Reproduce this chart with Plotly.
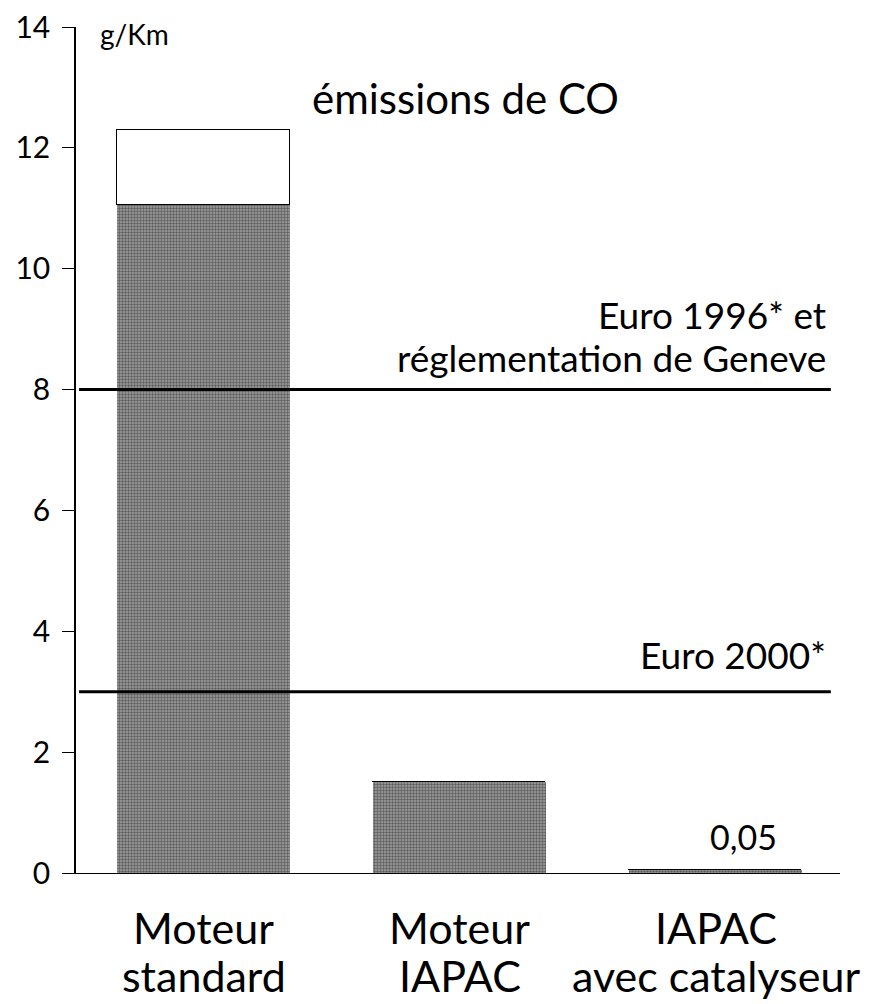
import plotly.graph_objects as go

categories_line1 = ["Moteur", "Moteur", "IAPAC"]
categories_line2 = ["standard", "IAPAC", "avec catalyseur"]
co_measured = [11.05, 1.5, 0.05]
co_extra = [1.25, 0, 0]
limit_values = [8, 3]
limit_labels = [["Euro 1996* et", "réglementation de Geneve"], ["Euro 2000*"]]
value_label = "0,05"
y_ticks = [0, 2, 4, 6, 8, 10, 12, 14]

FONT = "Lato"
x = [0, 1, 2]

fig = go.Figure()
fig.add_trace(go.Bar(
    x=x, y=co_measured, width=0.676,
    marker=dict(color="#8c8c8c", line=dict(width=0),
                pattern=dict(shape=".", fgcolor="#1a1a1a", bgcolor="#a0a0a0",
                             size=3, solidity=0.5)),
    showlegend=False, hoverinfo="skip"))
fig.add_trace(go.Bar(
    x=x, y=co_extra, width=0.676,
    marker=dict(color="white", line=dict(color="black", width=1.5)),
    showlegend=False, hoverinfo="skip"))

for v in limit_values:
    fig.add_shape(type="line", xref="paper", yref="y", x0=0.004, x1=0.988,
                  y0=v, y1=v, line=dict(color="black", width=3))

# limit labels, one annotation per line
shifts = [[75, 32], [37]]
for v, lines, sh in zip(limit_values, limit_labels, shifts):
    for txt, s in zip(lines, sh):
        fig.add_annotation(x=0.984, xref="paper", y=v, yref="y", text=txt,
                           showarrow=False, xanchor="right", yanchor="middle",
                           yshift=s, font=dict(family=FONT, size=37, color="black"))

fig.add_annotation(x=x[2], y=co_measured[2], text=value_label, showarrow=False,
                   yanchor="bottom", yshift=11, xshift=28,
                   font=dict(family=FONT, size=34, color="black"))
fig.add_annotation(x=0.51, xref="paper", y=12.83, yref="y", text="émissions de CO",
                   showarrow=False, yanchor="middle",
                   font=dict(family=FONT, size=42, color="black"))
fig.add_annotation(x=0.029, xref="paper", y=14, yref="y", text="g/Km",
                   showarrow=False, xanchor="left", yanchor="middle", yshift=-7,
                   font=dict(family=FONT, size=28, color="black"))

# category labels (two lines each)
for xi, l1, l2 in zip(x, categories_line1, categories_line2):
    fig.add_annotation(x=xi, y=0, yref="paper", text=l1, showarrow=False,
                       yanchor="middle", yshift=-54,
                       font=dict(family=FONT, size=43, color="black"))
    fig.add_annotation(x=xi, y=0, yref="paper", text=l2, showarrow=False,
                       yanchor="middle", yshift=-102,
                       font=dict(family=FONT, size=43, color="black"))

# page body has an 8px default margin, so the figure is 8px smaller
fig.update_layout(
    width=887, height=996,
    margin=dict(l=68, r=55, t=19, b=131, autoexpand=False),
    plot_bgcolor="white", paper_bgcolor="white",
    barmode="stack", bargap=0,
    font=dict(family=FONT, color="black"),
    xaxis=dict(range=[-0.498, 2.486], showticklabels=False, showgrid=False,
               zeroline=False, showline=True, linecolor="black", linewidth=1.2,
               ticks="", automargin=False, fixedrange=True),
    yaxis=dict(range=[0, 14], tickmode="array", tickvals=y_ticks,
               showgrid=False, zeroline=False, showline=True,
               linecolor="black", linewidth=1.5, ticks="outside",
               ticklen=12, tickcolor="black", tickwidth=1,
               tickfont=dict(family=FONT, size=30), ticklabeloverflow="allow",
               ticklabelstandoff=6, automargin=False),
)

fig.write_html("out.html")
